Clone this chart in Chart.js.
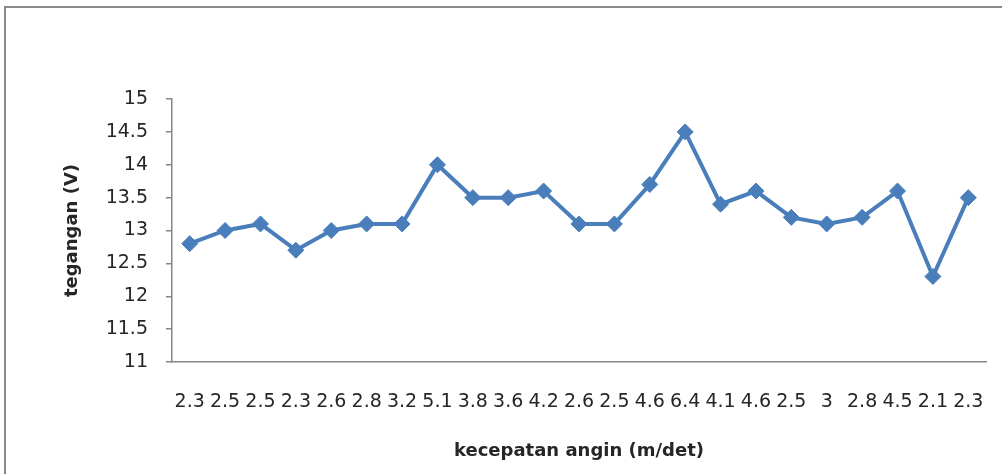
<!DOCTYPE html>
<html>
<head>
<meta charset="utf-8">
<script src="https://cdn.jsdelivr.net/npm/chart.js@4.4.1/dist/chart.umd.min.js"></script>
<style>
  html, body { margin: 0; padding: 0; background: #ffffff; }
  #wrap { width: 1002px; height: 474px; position: relative; }
</style>
</head>
<body>
<div id="wrap"><canvas id="c" width="1002" height="474"></canvas></div>
<script>
// wind speed (m/det) for each measurement
const categories = ['2.3','2.5','2.5','2.3','2.6','2.8','3.2','5.1','3.8','3.6','4.2','2.6','2.5','4.6','6.4','4.1','4.6','2.5','3','2.8','4.5','2.1','2.3'];
// generated voltage (V)
const tegangan = [12.8,13.0,13.1,12.7,13.0,13.1,13.1,14.0,13.5,13.5,13.6,13.1,13.1,13.7,14.5,13.4,13.6,13.2,13.1,13.2,13.6,12.3,13.5];
const yMin = 11, yMax = 15, yStep = 0.5;

const FONT = '"DejaVu Sans", "Open Sans", sans-serif';
const TEXT = '#262626';
const AXIS = '#868686';

// outer frame around the chart
const framePlugin = {
  id: 'frame',
  beforeDraw(chart) {
    const ctx = chart.ctx;
    ctx.save();
    ctx.fillStyle = '#ffffff';
    ctx.fillRect(0, 0, chart.width, chart.height);
    ctx.strokeStyle = '#8a8a8a';
    ctx.lineWidth = 2;
    ctx.strokeRect(5, 7, chart.width + 20, chart.height + 20);
    ctx.restore();
  }
};

new Chart(document.getElementById('c'), {
  type: 'line',
  data: {
    labels: categories,
    datasets: [{
      data: tegangan,
      borderColor: '#4a7ebb',
      backgroundColor: '#4a7ebb',
      borderWidth: 4,
      pointStyle: 'rectRot',
      pointRadius: 8,
      pointHoverRadius: 8,
      pointBorderWidth: 1,
      tension: 0
    }]
  },
  plugins: [framePlugin],
  options: {
    responsive: false,
    animation: false,
    events: [],
    layout: { padding: { left: 10, top: 99, right: 16, bottom: 0 } },
    plugins: { legend: { display: false }, tooltip: { enabled: false } },
    scales: {
      x: {
        offset: true,
        grid: { display: true, drawOnChartArea: false, drawTicks: false },
        border: { display: true, color: AXIS, width: 1.5 },
        ticks: { color: TEXT, font: { family: FONT, size: 19 }, padding: 29, maxRotation: 0, autoSkip: false },
        title: { display: true, text: 'kecepatan angin (m/det)', color: TEXT,
                 font: { family: FONT, size: 18, weight: 'bold' }, padding: { top: 0, bottom: 12 } },
        afterFit(scale) {
          scale.height = 112;
          // keep the plot edges fixed regardless of label overhang
          scale.paddingLeft = 0;
          scale.paddingRight = 0;
        }
      },
      y: {
        min: yMin, max: yMax,
        grid: { display: true, drawOnChartArea: false, drawTicks: true, tickLength: 6, color: AXIS, lineWidth: 1.5 },
        border: { display: true, color: AXIS, width: 1.5 },
        ticks: { stepSize: yStep, color: TEXT, font: { family: FONT, size: 19 }, padding: 18,
                 callback: (v) => String(v) },
        title: { display: true, text: 'tegangan (V)', color: TEXT,
                 font: { family: FONT, size: 18, weight: 'bold' }, padding: { top: 52, bottom: 0 } },
        afterFit(scale) {
          scale.width = 162;
          scale.paddingTop = 0;
          scale.paddingBottom = 0;
        }
      }
    }
  }
});
</script>
</body>
</html>
